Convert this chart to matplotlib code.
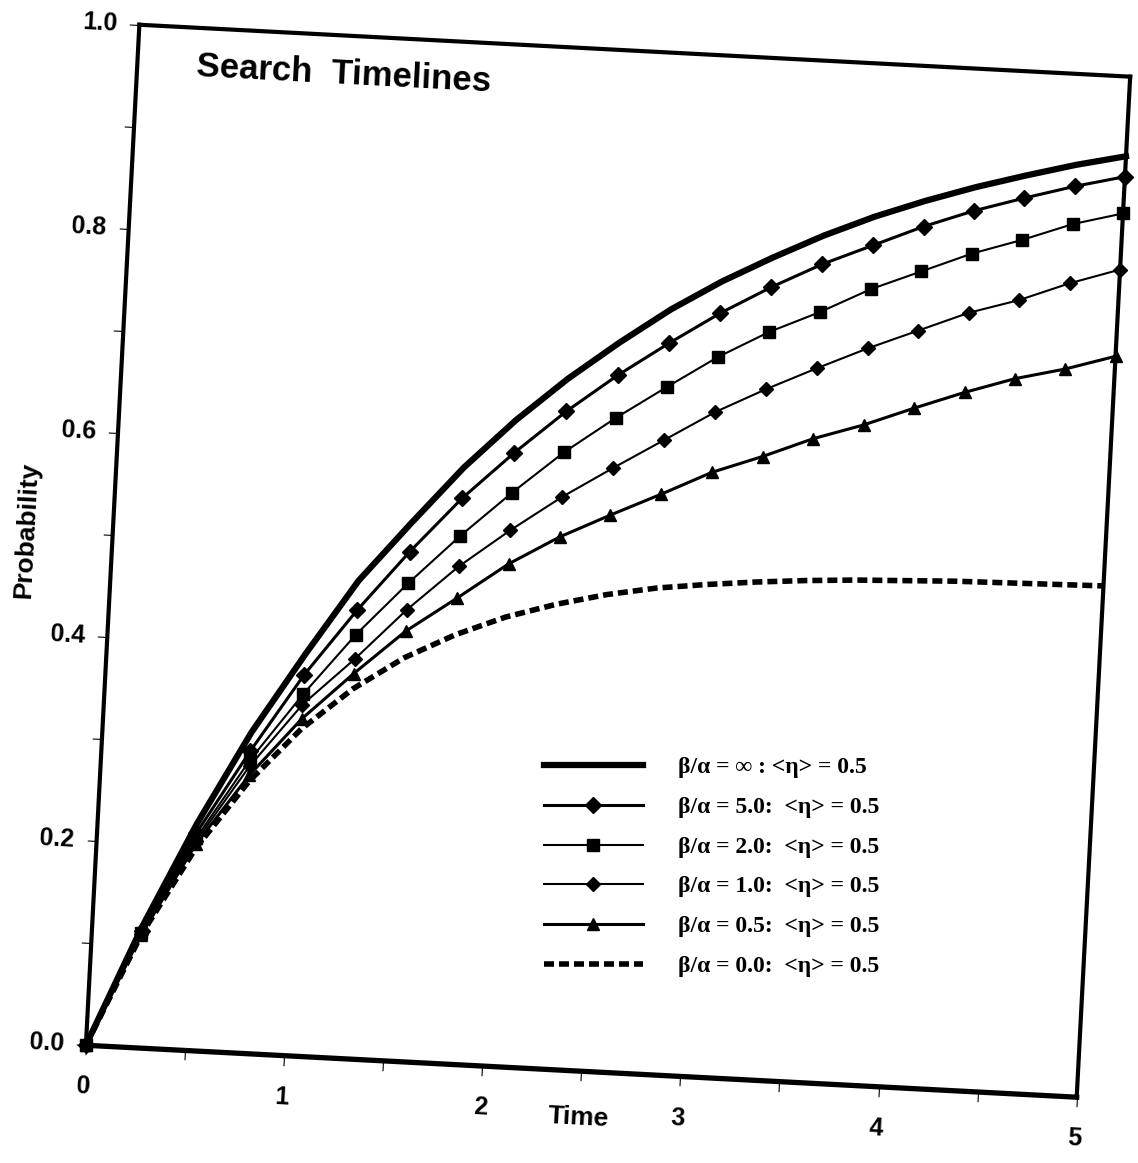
import matplotlib
matplotlib.use("Agg")
import matplotlib.pyplot as plt
from matplotlib.transforms import Affine2D
import mpl_toolkits.axisartist.floating_axes as floating_axes
from mpl_toolkits.axisartist.grid_finder import FixedLocator, DictFormatter

plt.rcParams['font.family'] = ['Liberation Sans', 'DejaVu Sans']

# values (markers every 0.25 time units)
time = [0.0, 0.25, 0.5, 0.75, 1.0, 1.25, 1.5, 1.75, 2.0, 2.25, 2.5,
        2.75, 3.0, 3.25, 3.5, 3.75, 4.0, 4.25, 4.5, 4.75, 5.0]
p_inf = [0.0, 0.118, 0.222, 0.314, 0.393, 0.468, 0.527, 0.584, 0.633, 0.676, 0.714,
         0.749, 0.779, 0.805, 0.829, 0.850, 0.868, 0.884, 0.898, 0.911, 0.922]
p_5 = [0.0, 0.115, 0.213, 0.296, 0.373, 0.439, 0.499, 0.554, 0.601, 0.644, 0.682,
       0.716, 0.748, 0.776, 0.801, 0.822, 0.843, 0.861, 0.876, 0.890, 0.902]
p_2 = [0.0, 0.113, 0.208, 0.287, 0.354, 0.415, 0.468, 0.517, 0.562, 0.604, 0.640,
       0.673, 0.705, 0.732, 0.754, 0.779, 0.799, 0.819, 0.835, 0.853, 0.866]
p_1 = [0.0, 0.112, 0.205, 0.281, 0.344, 0.391, 0.442, 0.487, 0.525, 0.560, 0.591,
       0.621, 0.651, 0.676, 0.699, 0.721, 0.741, 0.761, 0.776, 0.795, 0.811]
p_05 = [0.0, 0.111, 0.202, 0.272, 0.330, 0.377, 0.421, 0.456, 0.492, 0.521, 0.545,
        0.568, 0.592, 0.610, 0.630, 0.646, 0.665, 0.683, 0.699, 0.711, 0.726]
p_0 = [0.0, 0.111, 0.198, 0.266, 0.320, 0.362, 0.395, 0.420, 0.440, 0.455, 0.467,
       0.476, 0.482, 0.487, 0.491, 0.494, 0.496, 0.498, 0.499, 0.500, 0.501]

labels = ["\u03b2/\u03b1 = \u221e : <\u03b7> = 0.5",
          "\u03b2/\u03b1 = 5.0:  <\u03b7> = 0.5",
          "\u03b2/\u03b1 = 2.0:  <\u03b7> = 0.5",
          "\u03b2/\u03b1 = 1.0:  <\u03b7> = 0.5",
          "\u03b2/\u03b1 = 0.5:  <\u03b7> = 0.5",
          "\u03b2/\u03b1 = 0.0:  <\u03b7> = 0.5"]

x_ticks = [0, 0.5, 1, 1.5, 2, 2.5, 3, 3.5, 4, 4.5, 5]
x_ticklabels = {0: "0", 1: "1", 2: "2", 3: "3", 4: "4", 5: "5"}
y_ticks = [0.0, 0.1, 0.2, 0.3, 0.4, 0.5, 0.6, 0.7, 0.8, 0.9, 1.0]
y_ticklabels = {0.0: "0.0", 0.2: "0.2", 0.4: "0.4", 0.6: "0.6", 0.8: "0.8", 1.0: "1.0"}

# the scanned page is tilted about 3 degrees clockwise
tilt = Affine2D().scale(1.0, 5.15).rotate_deg(-3.0)
helper = floating_axes.GridHelperCurveLinear(
    tilt, extremes=(0, 5, 0, 1),
    grid_locator1=FixedLocator(x_ticks), tick_formatter1=DictFormatter(x_ticklabels),
    grid_locator2=FixedLocator(y_ticks), tick_formatter2=DictFormatter(y_ticklabels))

fig = plt.figure(figsize=(11.38, 11.63), dpi=100)
ax = fig.add_axes([0.0663, 0.0473, 0.936, 0.9407],
                  axes_class=floating_axes.FloatingAxes, grid_helper=helper)
aux = ax.get_aux_axes(tilt)

for name in ["left", "bottom", "right", "top"]:
    ax.axis[name].line.set_linewidth(3.0)
ax.axis["bottom"].line.set_linewidth(3.8)
for name in ["right", "top"]:
    ax.axis[name].toggle(ticks=False, ticklabels=False, label=False)
for name in ["left", "bottom"]:
    ax.axis[name].major_ticks.set_tick_out(True)
    ax.axis[name].major_ticks.set_ticksize(7)
    ax.axis[name].major_ticks.set_linewidth(2)
    ax.axis[name].major_ticklabels.set_fontsize(18)
    ax.axis[name].major_ticklabels.set_fontweight("bold")
    ax.axis[name].label.set_fontsize(19)
    ax.axis[name].label.set_fontweight("bold")
ax.axis["left"].major_ticklabels.set_pad(9)
ax.axis["bottom"].major_ticklabels.set_pad(15)
ax.axis["left"].label.set_text("Probability")
ax.axis["left"].label.set_pad(12)
ax.axis["bottom"].label.set_text("Time")
ax.axis["bottom"].label.set_pad(-10)

h_inf, = aux.plot(time, p_inf, color="black", lw=4.5)
h_5, = aux.plot(time, p_5, color="black", lw=2.2, marker="D", ms=8, clip_on=False)
h_2, = aux.plot(time, p_2, color="black", lw=1.5, marker="s", ms=8, clip_on=False)
h_1, = aux.plot(time, p_1, color="black", lw=1.5, marker="D", ms=7.5, clip_on=False)
h_05, = aux.plot(time, p_05, color="black", lw=2.2, marker="^", ms=9, clip_on=False)
h_0, = aux.plot(time, p_0, color="black", lw=4, ls=(0, (1.8, 0.9)))

aux.text(0.3, 0.962, "Search  Timelines", rotation=-3, rotation_mode="anchor",
         ha="left", va="center", fontsize=25, fontweight="bold")

fig.legend([h_inf, h_5, h_2, h_1, h_05, h_0], labels,
           loc="upper left", bbox_to_anchor=(0.4675, 0.3594), frameon=False,
           borderpad=0, handlelength=4.2, handletextpad=1.5, labelspacing=0.77,
           prop={"family": ["Liberation Serif", "DejaVu Serif"], "size": 17,
                 "weight": "bold"})

fig.savefig("out.png", dpi=100, facecolor="white")
